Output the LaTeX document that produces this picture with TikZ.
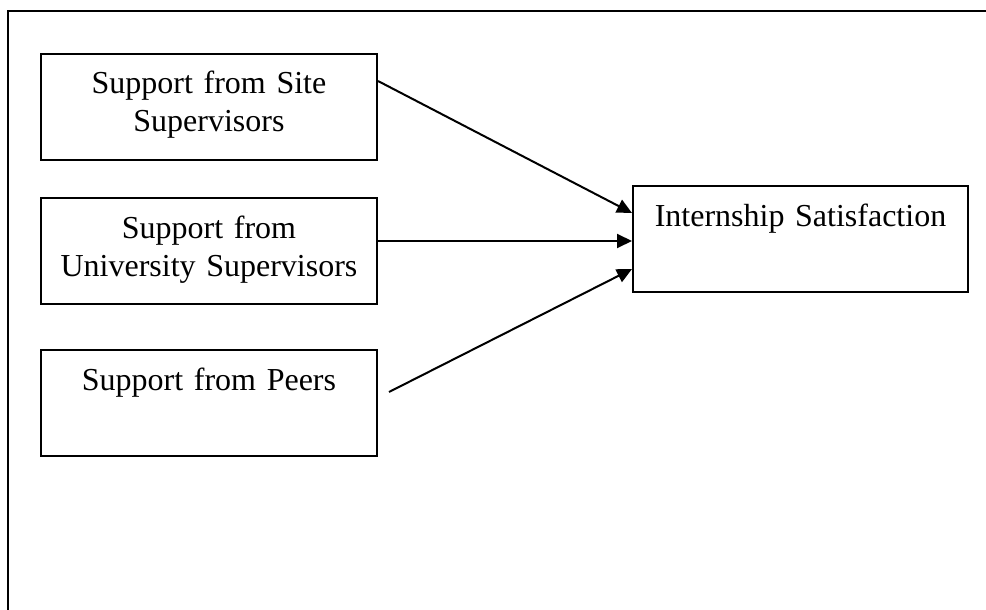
\documentclass[tikz,border=0pt]{standalone}
\usepackage{fontspec}
\setmainfont{Liberation Serif}
\usetikzlibrary{arrows.meta, positioning}

\begin{document}
\begin{tikzpicture}[x=1pt,y=-1pt,node distance=36pt,>={Triangle[length=15pt,width=14pt]},line width=2pt,
	box/.style={draw, inner sep=0pt, text width=336pt, align=center, text height=40pt, text depth=66pt,
		font=\fontsize{32}{38}\selectfont}]
	
	\useasboundingbox (0,0) rectangle (986,610);
	\draw (8,610) -- (8,11) -- (986,11);
	
	\node (site) [box, anchor=north west] at (40,53) {Support from Site\\Supervisors};
	\node (univ) [box, below=36pt of site] {Support from\\University Supervisors};
	\node (peers) [box, below=44pt of univ] {Support from Peers};
	\node (sat) [box, text width=335pt, anchor=north west] at (632,185) {Internship Satisfaction};
	
	\path [->]
	([yshift=26pt]site.east) edge ([yshift=26pt]sat.west)
	([yshift=10pt]univ.east) edge ([yshift=-2pt]sat.west)
	([xshift=11pt,yshift=11pt]peers.east) edge ([yshift=-30pt]sat.west);
	
\end{tikzpicture}
\end{document}
